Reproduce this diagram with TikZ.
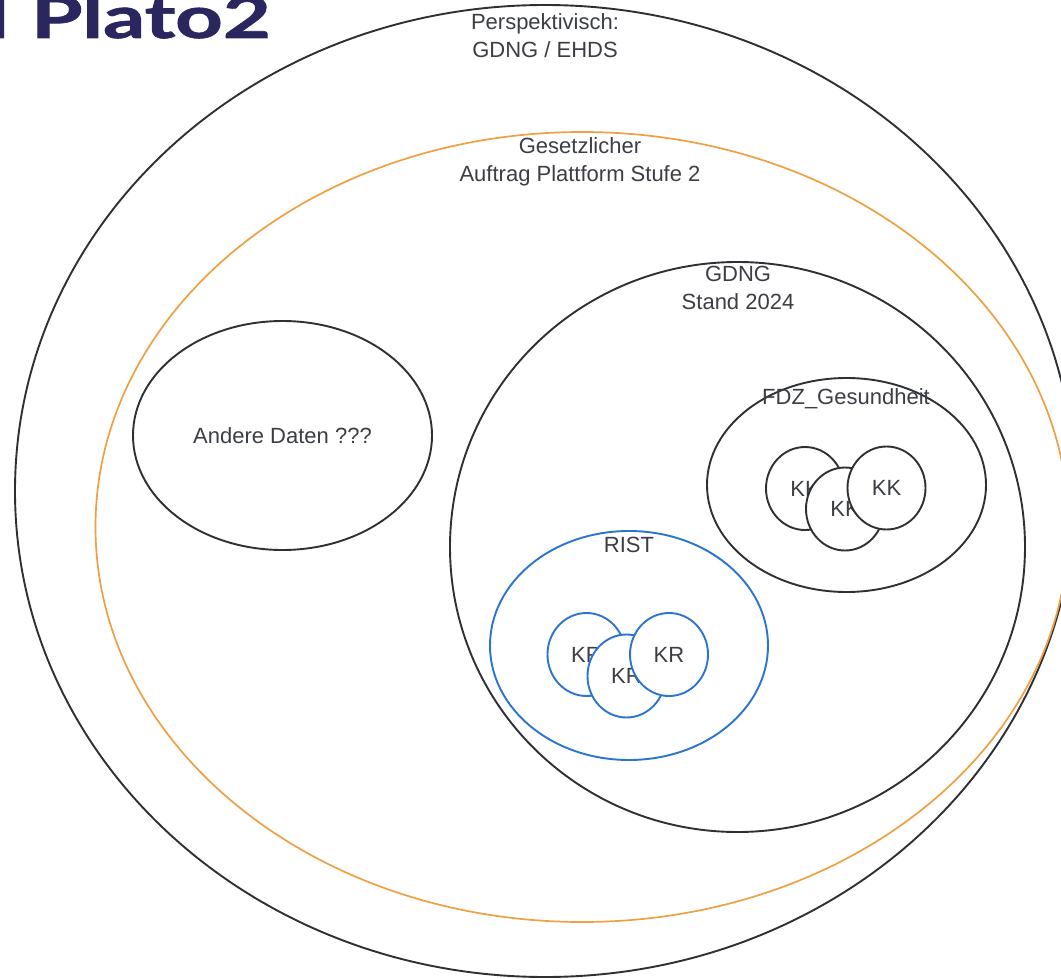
\documentclass[tikz,border=0pt]{standalone}
\usepackage{fontspec}
\setmainfont{Liberation Sans}
\newfontfamily\titlefont{Lato}[BoldFeatures={FakeBold=1.2}]
\usetikzlibrary{shapes.geometric}
\definecolor{lineblack}{HTML}{2F3033}
\definecolor{orangeL}{HTML}{F0A044}
\definecolor{blueL}{HTML}{2B74D0}
\definecolor{txt}{HTML}{3B3E44}
\definecolor{navy}{HTML}{2A275F}
\tikzset{
  ring/.style={draw=lineblack, line width=1.9pt, ellipse, inner sep=0pt},
  orangering/.style={ring, draw=orangeL, line width=1.7pt},
  bluering/.style={ring, draw=blueL},
  small/.style={ring, fill=white, minimum width=78pt, minimum height=83pt, text=txt, font=\fontsize{22}{26}\selectfont},
  smallblue/.style={small, draw=blueL},
  lbl/.style={text=txt, font=\fontsize{22}{28}\selectfont, align=center, inner sep=0pt},
  titletext/.style={inner sep=0pt, text=navy, font=\titlefont\bfseries\fontsize{58}{58}\selectfont},
}
\begin{document}
\begin{tikzpicture}[x=1pt,y=-1pt]
\useasboundingbox (0,0) rectangle (1061,979);
\fill[white] (0,0) rectangle (1061,979);
% title (cut at the picture's edges)
\node[titletext, anchor=base east] (titlefrag) at (9,38) {\scalebox{1.43}[1]{l}};
\node[titletext, anchor=base west] (title) at (31,38) {\scalebox{1.43}[1]{Plato2}};
% outer ellipses
\node[ring, minimum width=1060pt, minimum height=972pt] (outer) at (545,491) {};
\node[lbl] (outerlbl) at (545,36) {Perspektivisch:\\GDNG / EHDS};
\node[orangering, minimum width=973pt, minimum height=790pt] (legal) at (582,527) {};
\node[lbl] (legallbl) at (580,162) {Gesetzlicher\\Auftrag Plattform Stufe 2};
% andere daten
\node[ring, minimum width=299pt, minimum height=229pt, text=txt, font=\fontsize{22}{26}\selectfont] (andere) at (282.5,435.5) {Andere Daten ???};
% GDNG
\node[ring, minimum width=575pt, minimum height=570pt] (gdng) at (737.5,547) {};
\node[lbl] (gdnglbl) at (738,288) {GDNG\\Stand 2024};
% FDZ
\node[ring, minimum width=279pt, minimum height=214pt] (fdz) at (846.5,485) {};
\node[lbl] (fdzlbl) at (846,399) {FDZ\_Gesundheit};
\node[small] (kk1) at (805,488.5) {KK};
\node[small] (kk2) at (845,509) {KK};
\node[small] (kk3) at (886.5,488) {KK};
% RIST
\node[bluering, minimum width=278pt, minimum height=229pt] (rist) at (629,645.5) {};
\node[lbl] (ristlbl) at (629,545) {RIST};
\node[smallblue] (kr1) at (586.5,654.5) {KR};
\node[smallblue] (kr2) at (626.5,676) {KR};
\node[smallblue] (kr3) at (669,654.5) {KR};
\end{tikzpicture}
\end{document}
